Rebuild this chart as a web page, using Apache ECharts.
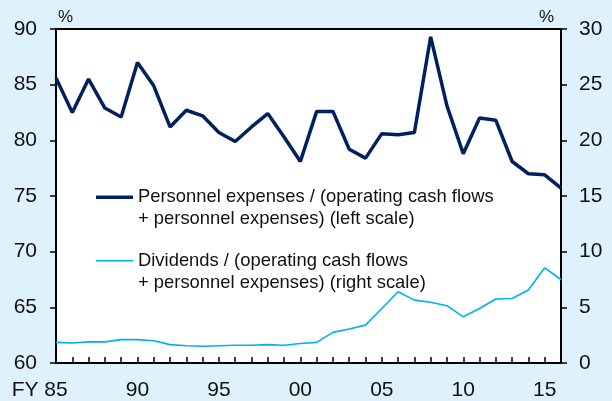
<!DOCTYPE html>
<html>
<head>
<meta charset="utf-8">
<script src="https://cdn.jsdelivr.net/npm/echarts@6/dist/echarts.min.js"></script>
<style>
  html, body { margin: 0; padding: 0; background: #dff1fc; }
  #chart { width: 612px; height: 401px; }
</style>
</head>
<body>
<div id="chart"></div>
<script>
// fiscal years 1985 - 2016
const years = ['85', '86', '87', '88', '89', '90', '91', '92', '93', '94', '95', '96', '97', '98', '99', '00',
  '01', '02', '03', '04', '05', '06', '07', '08', '09', '10', '11', '12', '13', '14', '15', '16']

// personnel expenses / (operating cash flows + personnel expenses), left scale
const personnel = [85.6, 82.5, 85.5, 82.9, 82.1, 87.0, 84.9, 81.2, 82.7, 82.2, 80.7, 79.9, 81.2, 82.4, 80.3, 78.1,
  82.6, 82.6, 79.2, 78.4, 80.6, 80.5, 80.7, 89.3, 83.1, 78.8, 82.0, 81.8, 78.1, 77.0, 76.9, 75.7]

// dividends / (operating cash flows + personnel expenses), right scale
const dividends = [1.85, 1.8, 1.9, 1.9, 2.1, 2.1, 2.0, 1.65, 1.55, 1.5, 1.55, 1.6, 1.6, 1.65, 1.6, 1.75,
  1.85, 2.75, 3.05, 3.4, 4.9, 6.4, 5.65, 5.45, 5.15, 4.15, 4.9, 5.75, 5.8, 6.55, 8.55, 7.5]

const shownLabels = ['85', '90', '95', '00', '05', '10', '15']

const navy = '#002060'
const sky = '#00b0f0'
const font = 'Liberation Sans, Arial, sans-serif'

const nameA = 'Personnel expenses / (operating cash flows\n+ personnel expenses) (left scale)'
const nameB = 'Dividends / (operating cash flows\n+ personnel expenses) (right scale)'

const chart = echarts.init(document.getElementById('chart'), null, { renderer: 'canvas' })

const option = {
  backgroundColor: '#dff1fc',
  animation: false,
  textStyle: { fontFamily: font },
  grid: {
    left: 56, right: 51, top: 29, bottom: 37,
    show: true,
    backgroundColor: '#ffffff',
    borderColor: '#000',
    borderWidth: 2
  },
  legend: {
    orient: 'vertical',
    left: 91,
    top: 181,
    itemWidth: 37,
    itemHeight: 25.5,
    itemGap: 19.5,
    selectedMode: false,
    textStyle: { fontSize: 18.4, lineHeight: 22, color: '#111', fontFamily: font },
    data: [
      { name: nameA, icon: 'path://M0,0H38V3.5H0Z M0,25.49H0.01V25.5H0Z' },
      { name: nameB, icon: 'path://M0,1H38V2.5H0Z M0,0H0.01V0.01H0Z M0,25.49H0.01V25.5H0Z' }
    ]
  },
  xAxis: {
    type: 'category',
    data: years,
    boundaryGap: false,
    axisLine: { lineStyle: { color: '#000', width: 2 } },
    axisTick: { inside: true, length: 6, interval: 0, lineStyle: { color: '#000', width: 1.5 } },
    axisLabel: {
      interval: (i, v) => shownLabels.includes(v),
      margin: 17,
      fontSize: 21,
      color: '#111',
      formatter: (v, i) => i === 0 ? '{fy|FY }' + v + '{sp|FY }' : v,
      rich: {
        fy: { fontSize: 21, color: '#111' },
        sp: { fontSize: 21, color: 'rgba(0,0,0,0)' }
      }
    }
  },
  yAxis: [
    {
      type: 'value',
      min: 60, max: 90, interval: 5,
      name: '%',
      nameLocation: 'end',
      nameGap: 3,
      nameTextStyle: { fontSize: 17, color: '#111', align: 'left', padding: [0, 0, 0, 2] },
      axisLine: { show: true, lineStyle: { color: '#000', width: 2 } },
      axisTick: { show: true, length: 6, lineStyle: { color: '#000', width: 1.5 } },
      axisLabel: { fontSize: 21, color: '#111', margin: 19 },
      splitLine: { show: false }
    },
    {
      type: 'value',
      min: 0, max: 30, interval: 5,
      name: '%',
      nameLocation: 'end',
      nameGap: 3,
      nameTextStyle: { fontSize: 17, color: '#111', align: 'right', padding: [0, 7, 0, 0] },
      axisLine: { show: true, lineStyle: { color: '#000', width: 2 } },
      axisTick: { show: true, length: 6, lineStyle: { color: '#000', width: 1.5 } },
      axisLabel: { fontSize: 21, color: '#111', margin: 18 },
      splitLine: { show: false }
    }
  ],
  series: [
    {
      name: nameA,
      type: 'line',
      yAxisIndex: 0,
      data: personnel,
      symbol: 'none',
      color: navy,
      lineStyle: { color: navy, width: 3.5 }
    },
    {
      name: nameB,
      type: 'line',
      yAxisIndex: 1,
      data: dividends,
      symbol: 'none',
      color: sky,
      lineStyle: { color: sky, width: 1.6 }
    }
  ]
}

chart.setOption(option)
</script>
</body>
</html>
